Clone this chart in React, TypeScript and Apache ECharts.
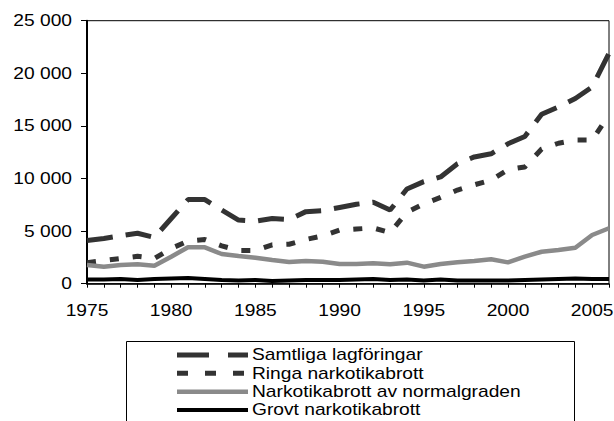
import React, { useEffect, useRef } from "react";
import * as echarts from "echarts";

const years = [
  "1975", "1976", "1977", "1978", "1979", "1980", "1981", "1982", "1983", "1984",
  "1985", "1986", "1987", "1988", "1989", "1990", "1991", "1992", "1993", "1994",
  "1995", "1996", "1997", "1998", "1999", "2000", "2001", "2002", "2003", "2004",
  "2005", "2006",
];
const xTickLabels = ["1975", "1980", "1985", "1990", "1995", "2000", "2005"];
const yTicks = [0, 5000, 10000, 15000, 20000, 25000];
const seriesNames = [
  "Samtliga lagföringar",
  "Ringa narkotikabrott",
  "Narkotikabrott av normalgraden",
  "Grovt narkotikabrott",
];
const samtliga = [
  4100, 4300, 4550, 4800, 4400, 6200, 8000, 8000, 7000, 6050,
  5950, 6200, 6100, 6850, 6950, 7250, 7550, 7750, 7000, 9000,
  9700, 10150, 11400, 12050, 12350, 13300, 14000, 16100, 16800, 17600,
  18700, 21900,
];
const ringa = [
  2000, 2200, 2400, 2600, 2400, 3350, 4050, 4200, 3600, 3150,
  3150, 3700, 3750, 4200, 4550, 5100, 5200, 5300, 4850, 6800,
  7600, 8200, 8900, 9400, 9850, 10850, 11100, 12800, 13350, 13650,
  13650, 16050,
];
const normalgraden = [
  1780, 1620, 1780, 1840, 1710, 2570, 3460, 3460, 2820, 2630,
  2470, 2250, 2060, 2160, 2090, 1870, 1870, 1940, 1840, 2000,
  1620, 1870, 2030, 2160, 2320, 2030, 2570, 3040, 3200, 3420,
  4630, 5270,
];
const grovt = [
  400, 400, 450, 350, 450, 500, 550, 450, 350, 300,
  350, 250, 300, 350, 350, 350, 400, 450, 350, 400,
  300, 400, 300, 300, 300, 300, 350, 400, 450, 500,
  450, 450,
];

const FONT_FAMILY = "'Liberation Sans', Arial, sans-serif";
const FONT = "16px " + FONT_FAMILY;
const STRETCH = 1.2;

const seriesStyles = [
  { color: "#333", width: 5, dash: [26, 13] as number[] | null, legendDash: [32, 19] as number[] | null },
  { color: "#333", width: 5, dash: [9, 14], legendDash: [11, 17] },
  { color: "#8a8a8a", width: 4.5, dash: null, legendDash: null },
  { color: "#000", width: 4, dash: null, legendDash: null },
];
const seriesData = [samtliga, ringa, normalgraden, grovt];

function fmt(v: number): string {
  return String(v).replace(/\B(?=(\d{3})+(?!\d))/g, " ");
}

export default function App() {
  const ref = useRef<HTMLDivElement>(null);
  useEffect(() => {
    if (!ref.current) return;
    const chart = echarts.init(ref.current, null, { renderer: "svg" });
    chart.setOption({
      animation: false,
      textStyle: { fontFamily: FONT_FAMILY },
      grid: {
        left: 87,
        right: 5,
        top: 20.7,
        bottom: 137.3,
        show: true,
        borderColor: "#000",
        borderWidth: 1,
        backgroundColor: "transparent",
      },
      xAxis: {
        type: "category",
        data: years,
        boundaryGap: false,
        axisLine: { show: true, lineStyle: { color: "#000", width: 1.5 } },
        axisTick: { show: true, length: 4, lineStyle: { color: "#000" }, interval: 0 },
        axisLabel: { show: false },
        splitLine: { show: false },
      },
      yAxis: {
        type: "value",
        min: yTicks[0],
        max: yTicks[yTicks.length - 1],
        interval: 5000,
        axisLine: { show: true, lineStyle: { color: "#000", width: 2 } },
        axisTick: { show: true, length: 6, lineStyle: { color: "#000" } },
        axisLabel: { show: false },
        splitLine: { show: false },
      },
      series: seriesNames.map((name, i) => ({
        name,
        type: "line",
        data: seriesData[i],
        symbol: "none",
        lineStyle: {
          color: seriesStyles[i].color,
          width: seriesStyles[i].width,
          type: seriesStyles[i].dash || "solid",
        },
        itemStyle: { color: seriesStyles[i].color },
      })),
    });

    const graphics: any[] = [];
    // y-axis tick labels (horizontally stretched text like the reference)
    yTicks.forEach((v) => {
      const y = chart.convertToPixel({ yAxisIndex: 0 }, v) as number;
      graphics.push({
        type: "text",
        x: 72,
        y,
        scaleX: STRETCH,
        silent: true,
        style: { text: fmt(v), font: FONT, fill: "#000", textAlign: "right", textVerticalAlign: "middle" },
      });
    });
    // x-axis tick labels
    xTickLabels.forEach((lab) => {
      const x = chart.convertToPixel({ xAxisIndex: 0 }, lab) as number;
      graphics.push({
        type: "text",
        x,
        y: 311,
        scaleX: STRETCH,
        silent: true,
        style: { text: lab, font: FONT, fill: "#000", textAlign: "center", textVerticalAlign: "middle" },
      });
    });
    // legend box
    graphics.push({
      type: "rect",
      shape: { x: 126.5, y: 341.5, width: 448, height: 100 },
      silent: true,
      style: { fill: "#fff", stroke: "#000", lineWidth: 1 },
      z: 0,
    });
    const rowY = [355, 373.3, 391.7, 410];
    seriesNames.forEach((name, i) => {
      const st = seriesStyles[i];
      graphics.push({
        type: "line",
        shape: { x1: 177, y1: rowY[i], x2: 248, y2: rowY[i] },
        silent: true,
        z: 1,
        style: { stroke: st.color, lineWidth: st.width, lineDash: st.legendDash || undefined },
      });
      graphics.push({
        type: "text",
        x: 252,
        y: rowY[i],
        scaleX: STRETCH,
        silent: true,
        z: 1,
        style: { text: name, font: FONT, fill: "#000", textAlign: "left", textVerticalAlign: "middle" },
      });
    });
    chart.setOption({ graphic: graphics });

    return () => chart.dispose();
  }, []);
  return (
    <div
      ref={ref}
      style={{ position: "fixed", left: 0, top: 0, width: 614, height: 421, background: "#fff" }}
    />
  );
}
